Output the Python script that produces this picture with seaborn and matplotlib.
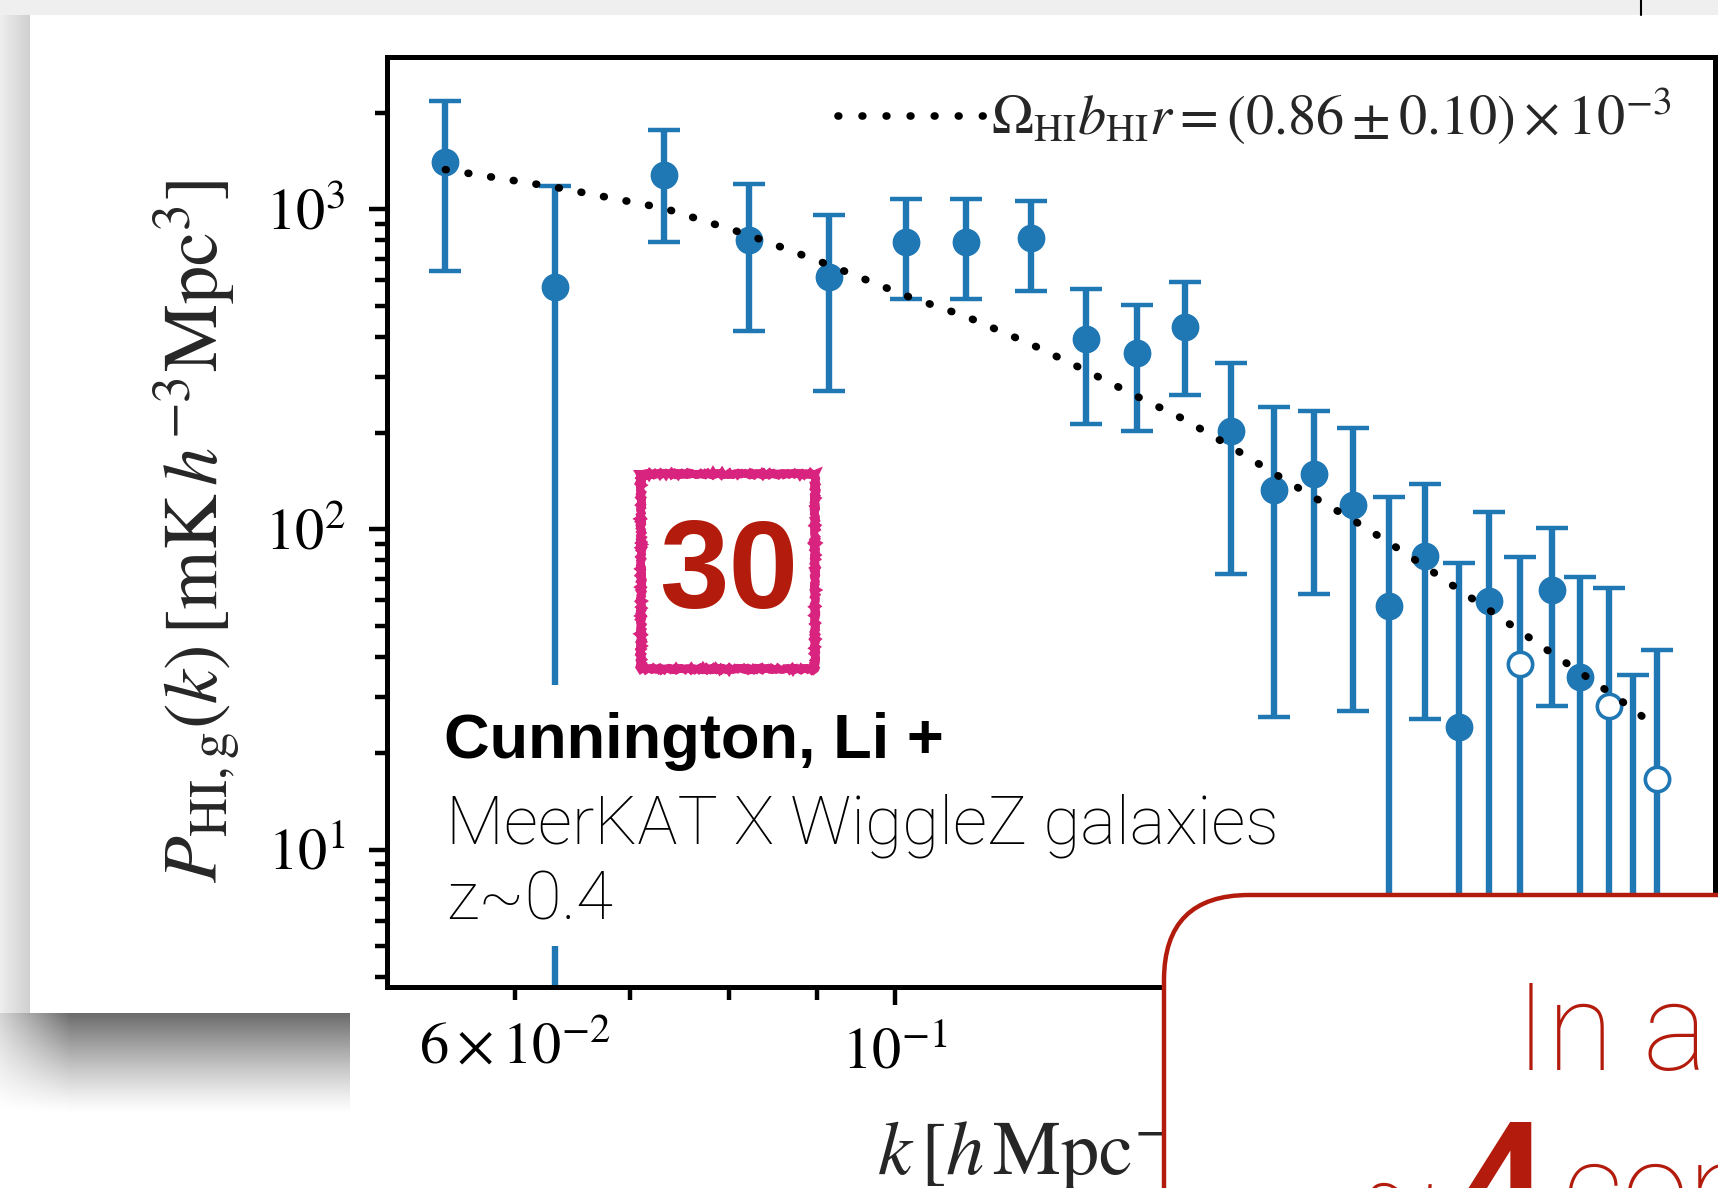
import numpy as np
import matplotlib
matplotlib.use("Agg")
import matplotlib.pyplot as plt
import seaborn as sns
from matplotlib.patches import Rectangle, FancyBboxPatch
from matplotlib.lines import Line2D
from matplotlib.ticker import FuncFormatter

# cross power spectrum
k_vals = [0.0546, 0.0633, 0.0733, 0.0822, 0.0915, 0.1015, 0.1101, 0.1201, 0.1294,
          0.1386, 0.1478, 0.1573, 0.1665, 0.1758, 0.1853, 0.1946, 0.2043, 0.2138,
          0.2226, 0.2320, 0.2424, 0.2515, 0.2614, 0.2700, 0.2790]
p_vals = [1409, 571, 1281, 802, 614, 791, 791, 813, 393, 355, 430, 203, 133, 149,
          119, 57.7, 82.3, 24.2, 59.8, 38.1, 64.7, 34.6, 28.1, 5.0, 16.6]
p_upper = [2177, 1185, 1766, 1199, 957, 1078, 1078, 1065, 565, 504, 592, 332, 241,
           234, 208, 126, 139, 78.5, 113, 82, 101, 71.1, 65.7, 35.2, 41.9]
p_lower = [643, 1.0, 791, 416, 270, 523, 523, 557, 213, 203, 262, 72.3, 26.0, 62.7,
           27.0, 1.0, 25.6, 1.0, 1.0, 1.0, 28.1, 1.0, 1.0, 1.0, 1.0]
open_marker = [0, 0, 0, 0, 0, 0, 0, 0, 0, 0, 0, 0, 0, 0, 0, 0, 0, 0, 0, 1, 0, 0, 1, 0, 1]
model_vals = [1330, 1172, 1007, 830, 670, 537, 462, 379, 313, 260, 220, 181, 150, 126,
              107, 90.8, 76.4, 64.7, 56.0, 48.1, 40.9, 35.8, 31.1, 27.5, 24.0]

x_minor_labels = {0.06: r"$6\times10^{-2}$", 0.2: r"$2\times10^{-1}$", 0.3: r"$3\times10^{-1}$"}
legend_label = r"$\Omega_{\rm HI}b_{\rm HI}r = (0.86\pm0.10)\times10^{-3}$"
x_label = r"$k\,[h\,{\rm Mpc}^{-1}]$"
y_label = r"$P_{\rm HI,g}(k)\,[{\rm mK}\,h^{-3}{\rm Mpc}^3]$"

BLUE = "#1f77b4"
RED = "#b31b0c"
PINK = "#d8237f"
W, H = 1718, 1188
DOTS = (0, (0.1, 2.9))

sns.set_theme(style="ticks")
plt.rcParams["font.family"] = "serif"
plt.rcParams["font.serif"] = ["STIXGeneral", "DejaVu Serif"]
plt.rcParams["mathtext.fontset"] = "stix"
plt.rcParams["axes.edgecolor"] = "black"
plt.rcParams["xtick.color"] = "black"
plt.rcParams["ytick.color"] = "black"
plt.rcParams["lines.dash_capstyle"] = "round"

fig = plt.figure(figsize=(W / 100, H / 100), dpi=100, facecolor="white")

# slide background: grey strips and the card shadow
img = np.ones((H, W))
yy, xx = np.mgrid[0:H, 0:W]
img[:15, :] = 0.935
left = (xx < 30) & (yy >= 15) & (yy < 1013)
img[left] = 0.93 - 0.12 * (xx[left] / 30.0)
shade = (yy >= 1013) & (yy < 1115) & (xx < 350)
fy = np.clip(1 - (yy - 1013) / 100.0, 0, 1) ** 1.2
gx = np.clip((xx + 30) / 100.0, 0, 1)
img[shade] = 1 - 0.58 * (fy * gx)[shade]
bg = fig.add_axes([0, 0, 1, 1], zorder=-5)
bg.imshow(img, cmap="gray", vmin=0, vmax=1, extent=(0, W, H, 0), aspect="auto")
bg.plot([1641, 1641], [0, 15], color="black", lw=1.5)
bg.set_xlim(0, W)
bg.set_ylim(H, 0)
bg.axis("off")

# main panel
ax = fig.add_axes([387 / W, 1 - 987 / H, (1715 - 387) / W, (987 - 57) / H])
ax.set_xscale("log")
ax.set_yscale("log")

k = np.array(k_vals)
p = np.array(p_vals)
yerr = [p - np.array(p_lower), np.array(p_upper) - p]
ax.errorbar(k, p, yerr=yerr, fmt="none", ecolor=BLUE, elinewidth=4.6,
            capsize=11.5, capthick=3.2, zorder=2)
is_open = np.array(open_marker) == 1
ax.plot(k[~is_open], p[~is_open], "o", color=BLUE, markersize=19, zorder=3)
ax.plot(k[is_open], p[is_open], "o", markerfacecolor="white", markeredgecolor=BLUE,
        markersize=17.5, markeredgewidth=2.6, zorder=3)

sns.lineplot(x=k_vals, y=model_vals, ax=ax, color="black", linewidth=5.5,
             linestyle=DOTS, dash_capstyle="round", zorder=4)

handle = Line2D([], [], color="black", linewidth=5.5, linestyle=(0, (0.1, 3.05)),
                dash_capstyle="round")
ax.legend([handle], [legend_label], loc="upper right", frameon=False, fontsize=40.5,
          handlelength=2.6, handletextpad=0.12, borderpad=0, borderaxespad=0,
          bbox_to_anchor=((1671 - 387) / 1328, (987 - 86) / 930))

ax.set_xlim(0.05047, 0.3017)
ax.set_ylim(3.72, 2990)

ax.xaxis.set_minor_formatter(FuncFormatter(
    lambda v, pos: next((s for t, s in x_minor_labels.items() if abs(v - t) < 1e-6), "")))

ax.tick_params(which="both", direction="out", top=False, right=False, width=3.2,
               labelsize=42, pad=17)
ax.tick_params(which="major", length=13)
ax.tick_params(which="minor", length=9)
for s in ax.spines.values():
    s.set_linewidth(3.6)
    s.set_color("black")

ax.set_ylabel(y_label, fontsize=55)
ax.yaxis.set_label_coords((243 - 387) / 1328, 0.49)
ax.set_xlabel(x_label, fontsize=55)
ax.xaxis.label.set_ha("left")
ax.xaxis.set_label_coords((877 - 387) / 1328, (987 - 1109) / 930)

# slide annotations on top
ov = fig.add_axes([0, 0, 1, 1], zorder=5)
ov.set_xlim(0, W)
ov.set_ylim(H, 0)
ov.axis("off")
ov.patch.set_alpha(0)

ov.add_patch(Rectangle((400, 685), 855, 261, facecolor="white", edgecolor="none"))
ov.text(444, 758, "Cunnington, Li +", fontsize=45.5, fontweight="bold",
        family=["Liberation Sans", "DejaVu Sans"], color="black", va="baseline")
ov.text(446, 843, "MeerKAT X WiggleZ galaxies", fontsize=48.5, fontweight="light",
        family=["Roboto", "DejaVu Sans"], color="black", va="baseline")
ov.text(446, 920, "z~0.4", fontsize=48.5, fontweight="light",
        family=["Roboto", "DejaVu Sans"], color="black", va="baseline")

pink = Rectangle((641, 474), 174, 195, facecolor="white", edgecolor=PINK, linewidth=5.8)
pink.set_sketch_params(scale=0.9, length=3, randomness=4)
ov.add_patch(pink)
ov.text(729, 576, "30", fontsize=90, fontweight="bold", color=RED, ha="center", va="center",
        family=["Liberation Sans", "DejaVu Sans"])

box = FancyBboxPatch((1164, 895), 800, 600, boxstyle="round,pad=0,rounding_size=85",
                     facecolor="white", edgecolor=RED, linewidth=3.2)
ov.add_patch(box)
ov.text(1515, 1070, "In a", fontsize=88, fontweight="light", color=RED,
        family=["Roboto", "DejaVu Sans"], va="baseline")
ov.text(1359, 1228, "~", fontsize=86, fontweight="light", color=RED,
        family=["Roboto", "DejaVu Sans"], va="baseline")
ov.text(1462, 1228, "4", fontsize=107, fontweight="bold", color=RED,
        family=["Roboto", "DejaVu Sans"], va="baseline")
ov.text(1562, 1228, "con", fontsize=86, fontweight="light", color=RED,
        family=["Roboto", "DejaVu Sans"], va="baseline")

fig.savefig("out.png", dpi=100, facecolor="white")
